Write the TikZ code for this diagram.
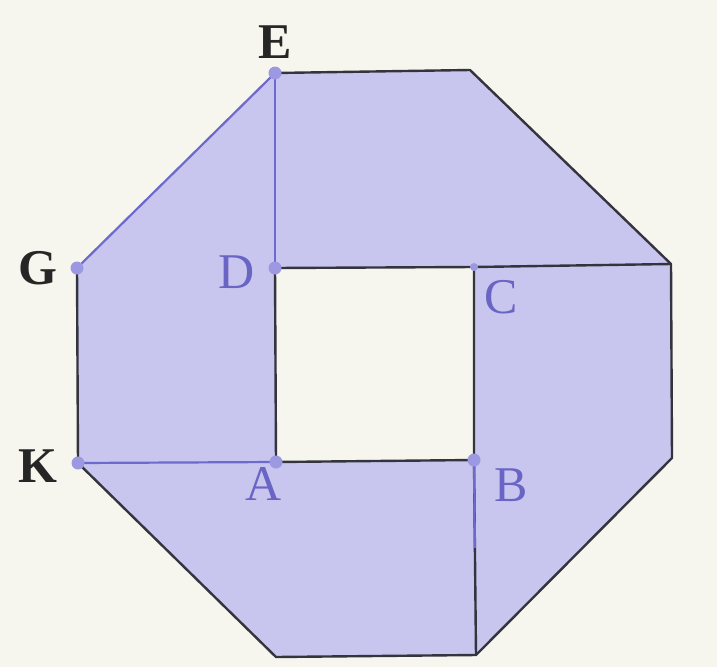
\documentclass[tikz,border=0pt]{standalone}
\usepackage{fontspec}
\setmainfont{Liberation Serif}
\usetikzlibrary{calc}
\definecolor{bg}{HTML}{F6F6EE}
\definecolor{lav}{HTML}{C8C6EE}
\definecolor{dotc}{HTML}{9C99E2}
\definecolor{bluel}{HTML}{6E69CC}
\definecolor{darkl}{HTML}{34343E}
\definecolor{lblc}{HTML}{6A64C4}
\begin{document}
\begin{tikzpicture}[x=1pt,y=-1pt,
  edge/.style={draw=darkl,line width=2.4pt,line join=round},
  bedge/.style={draw=bluel,line width=2.2pt},
  pt/.style={circle,fill=dotc,inner sep=0pt,minimum size=13pt},
  blk/.style={font=\fontsize{50}{50}\selectfont\bfseries,text=black!85,inner sep=0pt},
  pur/.style={font=\fontsize{50}{50}\selectfont,text=lblc,inner sep=0pt}]
\fill[bg] (0,0) rectangle (717,667);
\useasboundingbox (0,0) rectangle (717,667);
% corners
\coordinate (E) at (275,73);
\coordinate (TR) at (470,70);
\coordinate (RT) at (671,264);
\coordinate (RB) at (672,458);
\coordinate (BR) at (476,655);
\coordinate (BL) at (276,657);
\coordinate (K) at (78,463);
\coordinate (G) at (77,268);
\coordinate (D) at (275,268);
\coordinate (C) at (474,267);
\coordinate (B) at (474,460);
\coordinate (A) at (276,462);
\coordinate (Bm) at ($(B)!0.45!(BR)$);
% fill with hole
\fill[lav,even odd rule] (E) -- (TR) -- (RT) -- (RB) -- (BR) -- (BL) -- (K) -- (G) -- cycle
  (D) -- (C) -- (B) -- (A) -- cycle;
% outer edges
\draw[edge] (E) -- (TR) -- (RT) -- (RB) -- (BR) -- (BL) -- (K) -- (G);
\draw[bedge] (G) -- (E);
% inner
\draw[bedge] (E) -- (D);
\draw[edge] (D) -- (C) -- (RT);
\draw[edge] (C) -- (B) -- (A) -- (D);
\draw[bedge] (K) -- (A);
\draw[edge] (B) -- (BR);
\draw[bedge] (B) -- (Bm);
% dots
\foreach \p in {E,G,K,D,A,B} \node[pt] at (\p) {};
\node[pt,minimum size=8pt] at (C) {};
% labels
\node[blk] (lE) at (275,42) {E};
\node[blk] (lG) at (38,268) {G};
\node[blk] (lK) at (38,466) {K};
\node[pur] (lD) at (237,272) {D};
\node[pur] (lC) at (501,297) {C};
\node[pur] (lB) at (511,485) {B};
\node[pur] (lA) at (264,484) {A};
\end{tikzpicture}
\end{document}
